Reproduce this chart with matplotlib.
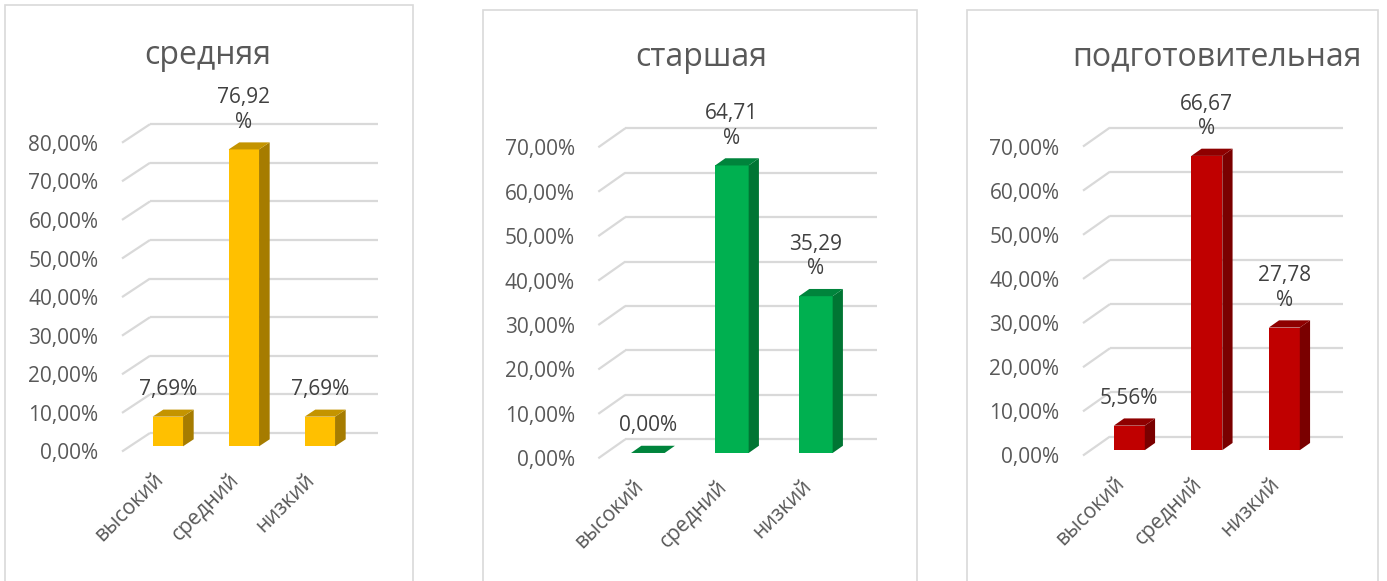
import matplotlib
matplotlib.use("Agg")
import matplotlib.pyplot as plt
from matplotlib.patches import Polygon, Rectangle

plt.rcParams['font.family'] = ['Open Sans', 'DejaVu Sans']

W, H = 1387, 581

# ---- data ----
categories = ["высокий", "средний", "низкий"]
titles = ["средняя", "старшая", "подготовительная"]
values_mid = [7.69, 76.92, 7.69]
values_senior = [0.00, 64.71, 35.29]
values_prep = [5.56, 66.67, 27.78]
tick_max = [80, 70, 70]
tick_step = 10

# ---- styles / layout (pixels) ----
face_cols = ["#FFC000", "#00B050", "#C00000"]
top_cols = ["#C49400", "#00843C", "#8E0000"]
side_cols = ["#A67C00", "#007533", "#7A0000"]
GRID = "#D9D9D9"
TXT = "#595959"
LBL = "#404040"

layouts = [
    dict(x0=122, y0=451.5, ppx=3.86, sp=76, dx=28, dy=18.5, tx=208, ty=55, frame=(5, 5, 413)),
    dict(x0=598.3, y0=458.3, ppx=4.443, sp=84, dx=27, dy=19, tx=701, ty=57, frame=(483, 10, 917)),
    dict(x0=1083, y0=455.5, ppx=4.414, sp=77.5, dx=27, dy=19, tx=1217, ty=57, frame=(967, 10, 1378)),
]
bar_w = 0.40      # category units
f_front = 0.28    # depth fraction of the bar front face
f_depth = 0.38    # depth fraction of bar thickness

fig = plt.figure(figsize=(W / 100, H / 100), dpi=100)
fig.patch.set_facecolor("white")

all_values = [values_mid, values_senior, values_prep]

for k, (vals, L) in enumerate(zip(all_values, layouts)):
    fl, ft, fr = L["frame"]
    fig.add_artist(Rectangle((fl / W, -0.1), (fr - fl) / W, 1 - ft / H + 0.1,
                             transform=fig.transFigure, fill=False,
                             edgecolor=GRID, lw=1.2))
    x0, y0, ppx, sp, dxp, dyp = L["x0"], L["y0"], L["ppx"], L["sp"], L["dx"], L["dy"]
    right_px = x0 + 3 * sp + dxp
    top_py = 60
    ax = fig.add_axes([x0 / W, 1 - y0 / H, (right_px - x0) / W, (y0 - top_py) / H])
    ax.set_xlim(-0.5, (right_px - x0) / sp - 0.5)
    ax.set_ylim(0, (y0 - top_py) / ppx)
    ax.patch.set_alpha(0)
    for s in ax.spines.values():
        s.set_visible(False)
    DX = dxp / sp
    DY = dyp / ppx

    ticks = list(range(0, tick_max[k] + 1, tick_step))
    for v in ticks:
        ax.plot([-0.5, -0.5 + DX], [v, v + DY], color=GRID, lw=1.6, clip_on=False,
                solid_capstyle='butt', zorder=1)
        ax.plot([-0.5 + DX, 2.5 + DX], [v + DY, v + DY], color=GRID, lw=1.6,
                clip_on=False, solid_capstyle='butt', zorder=1)
    ax.set_yticks(ticks)
    ax.set_yticklabels([f"{v:.2f}%".replace(".", ",") for v in ticks])
    ax.tick_params(axis='y', length=0, pad=17, labelsize=15, labelcolor=TXT)

    xs = list(range(len(categories)))
    ax.set_xticks(xs)
    ax.set_xticklabels(categories, rotation=45, ha='right', va='center',
                       rotation_mode='anchor')
    ax.tick_params(axis='x', length=0, pad=18, labelsize=15, labelcolor=TXT)

    b = f_front * DY
    fx = f_front * DX
    ddx = f_depth * DX
    ddy = f_depth * DY
    ax.bar([x + fx for x in xs], vals, width=bar_w, bottom=b,
           color=face_cols[k], zorder=3, clip_on=False)
    for x, v in zip(xs, vals):
        xl = x + fx - bar_w / 2
        xr = x + fx + bar_w / 2
        if v > 0:
            ax.add_patch(Polygon([(xr, b), (xr + ddx, b + ddy), (xr + ddx, b + v + ddy), (xr, b + v)],
                                 closed=True, facecolor=side_cols[k], edgecolor='none',
                                 zorder=3, clip_on=False))
        ax.add_patch(Polygon([(xl, b + v), (xr, b + v), (xr + ddx, b + v + ddy), (xl + ddx, b + v + ddy)],
                             closed=True, facecolor=top_cols[k], edgecolor='none',
                             zorder=3, clip_on=False))
        s = f"{v:.2f}".replace(".", ",")
        txt = s + "\n%" if v >= 10 else s + "%"
        ax.annotate(txt, (x + fx, b + v + ddy), xytext=(0, 7), textcoords='offset points',
                    ha='center', va='bottom', fontsize=15, color=LBL,
                    linespacing=1.2, annotation_clip=False)

    fig.text(L["tx"] / W, 1 - L["ty"] / H, titles[k], ha='center', va='center',
             fontsize=23, color=TXT)

fig.savefig("out.png", dpi=100, facecolor="white")
